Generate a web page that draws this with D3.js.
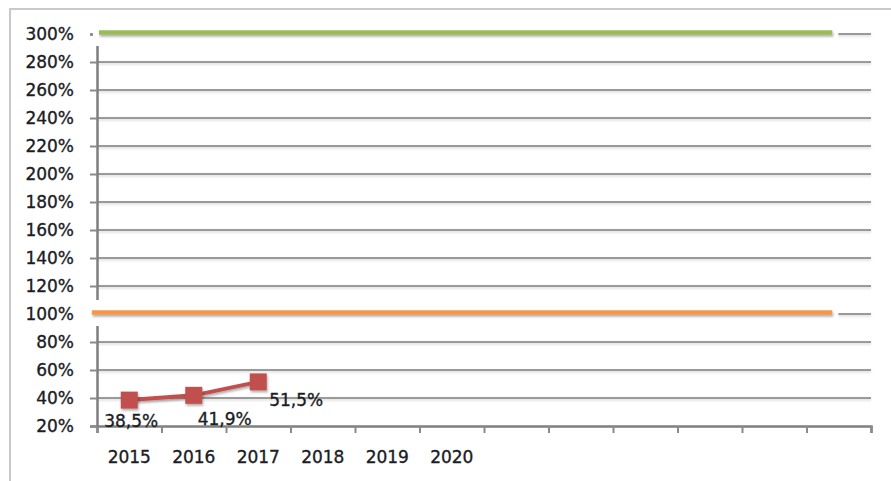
<!DOCTYPE html>
<html>
<head>
<meta charset="utf-8">
<script src="https://cdn.jsdelivr.net/npm/d3@7"></script>
<style>
  body { margin:0; background:#fff; }
  svg text { font-family:"DejaVu Sans", sans-serif; font-size:17px; fill:#1c1c24; stroke:#1c1c24; stroke-width:0.35px; }
</style>
</head>
<body>
<div id="chart"></div>
<script>
// data
const categories = ["2015","2016","2017","2018","2019","2020","","","","","",""];
const ratioValues = [38.5, 41.9, 51.5];
const ratioLabels = ["38,5%","41,9%","51,5%"];
const targetValues = [300, 100];
const targetColors = ["#9BBB59", "#F79646"];
const yTickValues = [20,40,60,80,100,120,140,160,180,200,220,240,260,280,300];

(function(){
    let W=891, H=481;
    let plot={left:97, right:871, top:34, bottom:426};
    // label placement relative to the marker (manually placed in the original)
    let labelShift=[[2,21],[31,24],[38,18]];
    // extent of the target lines, in category steps
    let targetSpan=[[0.03,11.4],[-0.08,11.4]];

    let svg=d3.select("#chart").append("svg")
        .attr("width",W).attr("height",H);

    let defs=svg.append("defs");
    let f=defs.append("filter").attr("id","shadow")
        .attr("filterUnits","userSpaceOnUse")
        .attr("x",0).attr("y",0).attr("width",W).attr("height",H);
    f.append("feDropShadow").attr("dx",1).attr("dy",2).attr("stdDeviation",1.2)
        .attr("flood-color","#000").attr("flood-opacity",0.3);
    let g=defs.append("filter").attr("id","soft")
        .attr("filterUnits","userSpaceOnUse")
        .attr("x",0).attr("y",0).attr("width",W).attr("height",H);
    g.append("feDropShadow").attr("dx",0).attr("dy",1.5).attr("stdDeviation",1)
        .attr("flood-color","#000").attr("flood-opacity",0.15);

    // outer frame
    svg.append("rect").attr("x",10).attr("y",9).attr("width",W+20).attr("height",H+20)
        .attr("fill","#fff").attr("stroke","#c9c9c9").attr("stroke-width",2);

    let x=d3.scaleBand().domain(d3.range(categories.length))
        .range([plot.left,plot.right]).padding(0);
    let xi=d3.scaleLinear().domain([0,categories.length]).range([plot.left,plot.right]);
    let y=d3.scaleLinear().domain([20,300]).range([plot.bottom,plot.top]);

    // gridlines
    svg.append("g")
        .selectAll("line").data(yTickValues.filter(v=>v>20)).join("line")
        .attr("x1",plot.left).attr("x2",plot.right)
        .attr("y1",d=>y(d)).attr("y2",d=>y(d))
        .attr("stroke","#9a9a9a").attr("stroke-width",2)
        .attr("filter","url(#soft)");

    // y axis
    let ya=svg.append("g").attr("transform","translate("+plot.left+",0)")
        .call(d3.axisLeft(y).tickValues(yTickValues).tickSize(7).tickPadding(16)
            .tickFormat(d=>d+"%"));
    ya.select(".domain").attr("stroke","#7f7f7f").attr("stroke-width",2.5);
    ya.selectAll(".tick line").attr("stroke","#8a8a8a").attr("stroke-width",2);
    ya.selectAll(".tick text").attr("fill","#1c1c24").style("font-size","17px")
        .style("font-family","DejaVu Sans");

    // x axis: labels centered, ticks at category boundaries
    let xa=svg.append("g").attr("transform","translate(0,"+plot.bottom+")")
        .call(d3.axisBottom(x).tickSize(0).tickPadding(25).tickFormat(i=>categories[i]));
    xa.select(".domain").remove();
    xa.selectAll(".tick text").attr("fill","#1c1c24").style("font-size","17px")
        .style("font-family","DejaVu Sans");
    let xb=svg.append("g").attr("transform","translate(0,"+plot.bottom+")")
        .call(d3.axisBottom(xi).tickValues(d3.range(categories.length+1)).tickSize(7).tickFormat(""));
    xb.select(".domain").attr("stroke","#7f7f7f").attr("stroke-width",2.5);
    xb.selectAll(".tick line").attr("stroke","#8a8a8a").attr("stroke-width",2);

    // target lines with white glow
    let tg=svg.append("g");
    targetValues.forEach(function(v,i){
        let x1=xi(targetSpan[i][0]), x2=xi(targetSpan[i][1]);
        tg.append("line").attr("x1",x1-6).attr("x2",x2+6)
            .attr("y1",y(v)-1).attr("y2",y(v)-1)
            .attr("stroke","#fff").attr("stroke-width",26);
    });
    targetValues.forEach(function(v,i){
        let x1=xi(targetSpan[i][0]), x2=xi(targetSpan[i][1]);
        tg.append("line").attr("x1",x1).attr("x2",x2)
            .attr("y1",y(v)-1.5).attr("y2",y(v)-1.5)
            .attr("stroke",targetColors[i]).attr("stroke-width",4.5)
            .attr("filter","url(#shadow)");
    });

    // ratio series
    let cx=i=>x(i)+x.bandwidth()/2;
    let line=d3.line().x((d,i)=>cx(i)).y(d=>y(d));
    svg.append("path").datum(ratioValues)
        .attr("fill","none").attr("stroke","#C0504D").attr("stroke-width",4)
        .attr("d",line).attr("filter","url(#shadow)");
    svg.append("g").selectAll("rect").data(ratioValues).join("rect")
        .attr("x",(d,i)=>cx(i)-8.5).attr("y",d=>y(d)-8.5)
        .attr("width",17).attr("height",17)
        .attr("fill","#C0504D").attr("filter","url(#shadow)");
    svg.append("g").selectAll("text").data(ratioValues).join("text")
        .attr("x",(d,i)=>cx(i)+labelShift[i][0])
        .attr("y",(d,i)=>y(d)+labelShift[i][1])
        .attr("text-anchor","middle").attr("dominant-baseline","central")
        .text((d,i)=>ratioLabels[i]);
})();
</script>
</body>
</html>
